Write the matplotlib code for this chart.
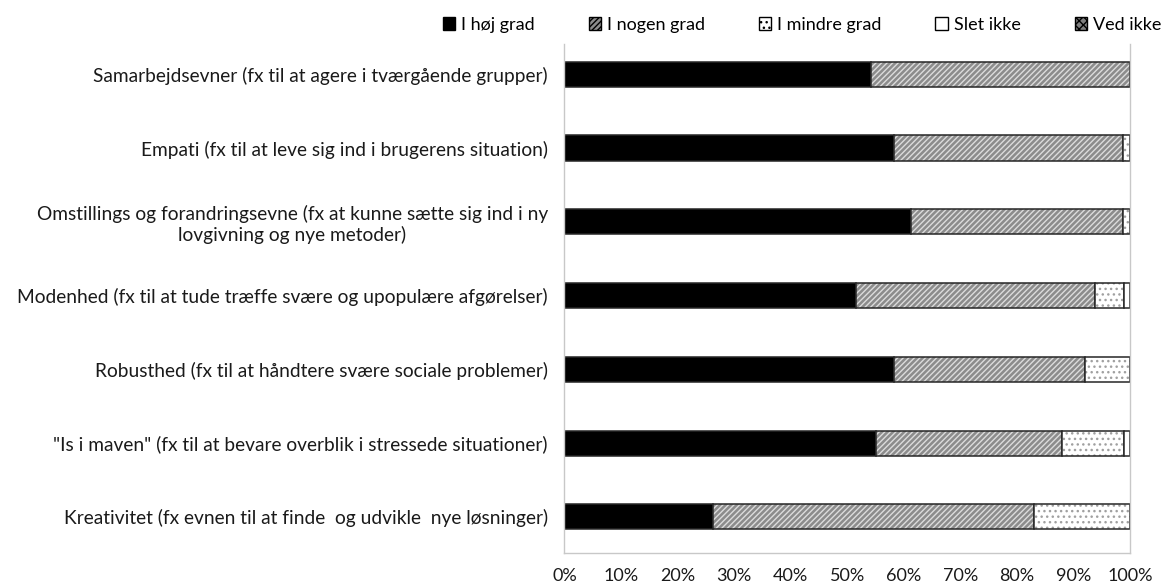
import numpy as np
import matplotlib.pyplot as plt
from matplotlib.patches import Patch

plt.rcParams['font.family'] = ['Lato', 'DejaVu Sans']
plt.rcParams['hatch.linewidth'] = 1.0

categories = ['Samarbejdsevner (fx til at agere i tværgående grupper)',
              'Empati (fx til at leve sig ind i brugerens situation)',
              'Omstillings og forandringsevne (fx at kunne sætte sig ind i ny\nlovgivning og nye metoder)',
              'Modenhed (fx til at tude træffe svære og upopulære afgørelser)',
              'Robusthed (fx til at håndtere svære sociale problemer)',
              '"Is i maven" (fx til at bevare overblik i stressede situationer)',
              'Kreativitet (fx evnen til at finde  og udvikle  nye løsninger)']
series = ['I høj grad', 'I nogen grad', 'I mindre grad', 'Slet ikke', 'Ved ikke']
hoej = [54.2, 58.3, 61.2, 51.6, 58.3, 55.1, 26.3]
nogen = [45.8, 40.5, 37.6, 42.3, 33.7, 32.9, 56.8]
mindre = [0, 1.2, 1.2, 5.0, 8.0, 10.9, 16.9]
slet = [0, 0, 0, 1.1, 0, 1.1, 0]
vedikke = [0, 0, 0, 0, 0, 0, 0]
xticks = [0, 10, 20, 30, 40, 50, 60, 70, 80, 90, 100]

# style per series: face, hatch, hatch colour
styles = [('black', None, 'black'),
          ('#8c8c8c', '//////', '#dcdcdc'),
          ('white', '...', '#a0a0a0'),
          ('white', None, 'white'),
          ('#808080', 'xxxx', 'white')]

fig = plt.figure(figsize=(11.66, 5.86), dpi=100)
ax = fig.add_axes([0.4841, 0.0563, 0.4850, 0.8686])

y = np.arange(len(categories))[::-1]
h = 0.34
left = np.zeros(len(categories))
for vals, (fc, hatch, hc) in zip([hoej, nogen, mindre, slet, vedikke], styles):
    vals = np.array(vals)
    m = vals > 0
    if m.any():
        ax.barh(y[m], vals[m], left=left[m], height=h, color=fc, hatch=hatch,
                edgecolor=hc, linewidth=0)
        ax.barh(y[m], vals[m], left=left[m], height=h, fill=False,
                edgecolor='#262626', linewidth=1.1)
    left += vals

ax.set_xlim(0, 100)
ax.set_ylim(-0.49, 6.41)
ax.set_yticks(y)
ax.set_yticklabels(categories, fontsize=13.8, color='#1a1a1a', linespacing=1.2)
for t in ax.get_yticklabels():
    t.set_multialignment('center')
ax.set_xticks(xticks)
ax.set_xticklabels([f'{v}%' for v in xticks], fontsize=13, color='#1a1a1a')
ax.tick_params(axis='both', length=0)
ax.tick_params(axis='x', pad=11)
ax.tick_params(axis='y', pad=12)
for s in ['left', 'bottom', 'right']:
    ax.spines[s].set_color('#c8c8c8')
    ax.spines[s].set_linewidth(1)
ax.spines['top'].set_visible(False)

handles = []
for name, (fc, hatch, hc) in zip(series, styles):
    handles.append(Patch(facecolor=fc, hatch=hatch,
                         edgecolor='black', linewidth=1, label=name))
fig.legend(handles=handles, loc='center left', bbox_to_anchor=(0.372, 0.958),
           ncol=5, frameon=False, fontsize=13, handlelength=0.7, handleheight=0.7,
           handletextpad=0.3, columnspacing=3.0, borderpad=0)

fig.savefig('out.png', dpi=100)
